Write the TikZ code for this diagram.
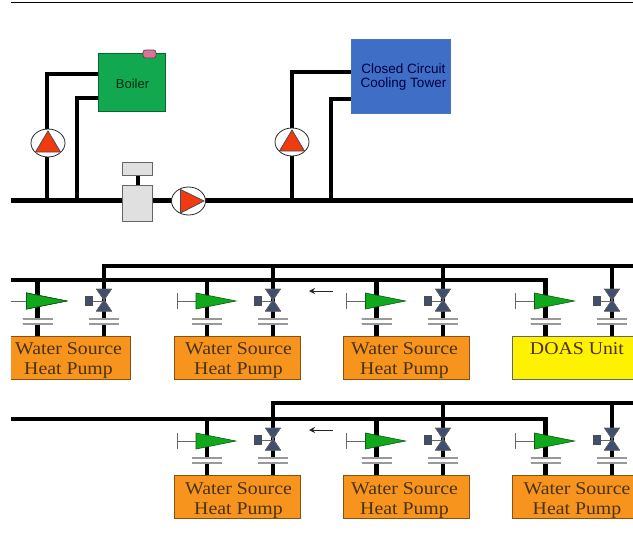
\documentclass[tikz,border=0pt]{standalone}
\usepackage{fontspec}
\setmainfont{Liberation Serif}
\newfontfamily\sansf{Liberation Sans}
\usetikzlibrary{shapes.geometric,arrows.meta}
\definecolor{pumpred}{HTML}{F23A10}
\definecolor{boilgreen}{HTML}{12A850}
\definecolor{towerblue}{HTML}{3F6EC6}
\definecolor{hporange}{HTML}{F7941E}
\definecolor{valveblue}{HTML}{414F6E}
\definecolor{valvegreen}{HTML}{12A81E}
\definecolor{boxtextc}{HTML}{4A3212}
\tikzset{
  x=1pt,y=-1pt,
  pipe/.style={line width=4.6pt,black,line cap=butt,line join=miter},
  pumpbody/.style={ellipse,draw=black!85,fill=white,line width=0.8pt,minimum width=34pt,minimum height=28pt,inner sep=0pt},
  pumptri/.style={fill=pumpred,draw=black!70,line width=0.8pt,line join=miter},
  hpbox/.style={draw=black!45!hporange,fill=hporange,line width=0.9pt,minimum width=126pt,minimum height=43pt,inner sep=0pt},
  boxtext/.style={font=\addfontfeature{FakeStretch=1.1}\fontsize{18pt}{19.5pt}\selectfont,text=boxtextc,align=center,inner sep=0pt},
  gray box/.style={draw=black!60,fill=black!12,line width=0.9pt,inner sep=0pt},
}
\newcommand{\greenvalve}[3]{%
  \ifnum#3=1 \draw[black!60,line width=0.9pt] (#1-30,#2-8) -- (#1-30,#2+8);
    \draw[black!60,line width=0.9pt] (#1-30,#2) -- (#1-11,#2);
  \else \draw[black!60,line width=0.9pt] (11,#2) -- (#1-11,#2); \fi
  \fill[valvegreen,draw=black!45!valvegreen,line width=0.6pt] (#1-11,#2-8) -- (#1+29,#2) -- (#1-11,#2+8) -- cycle;
}
\newcommand{\ballvalve}[2]{%
  \draw[black!60,line width=0.9pt] (#1-12,#2) -- (#1,#2);
  \fill[valveblue,draw=black!60,line width=0.5pt] (#1-7.5,#2-12) -- (#1+7.5,#2-12) -- (#1-7.5,#2+10) -- (#1+7.5,#2+10) -- cycle;
  \fill[valveblue,draw=black!70,line width=0.6pt] (#1-19,#2-4.5) rectangle (#1-11.5,#2+4.5);
}
\newcommand{\unionpair}[2]{%
  \fill[white] (#1-15,#2) rectangle (#1+15,#2+5);
  \draw[black!40,line width=1.4pt] (#1-15,#2) -- (#1+15,#2) (#1-15,#2+5) -- (#1+15,#2+5);
}
\begin{document}
\begin{tikzpicture}
\useasboundingbox (0,0) rectangle (633,547);
\fill[white] (0,0) rectangle (633,547);
\draw[black,line width=1.8pt] (11,2.5) -- (633,2.5);
% top plant
\node[draw=black!40!boilgreen,fill=boilgreen,line width=0.7pt,minimum width=67pt,minimum height=58pt,inner sep=0pt] (boiler) at (131.5,82) {};
\node[font=\sansf\fontsize{13pt}{14pt}\selectfont,text=black!75!boilgreen,inner sep=0pt] at (132.5,84) {Boiler};
\node[draw=black!70,fill=purple!55!white,rounded corners=2.5pt,line width=0.7pt,minimum width=13pt,minimum height=8pt,inner sep=0pt] (cap) at (149.5,54) {};
\node[draw=towerblue!80!gray,fill=towerblue,line width=0.7pt,minimum width=99pt,minimum height=74pt,inner sep=0pt] (tower) at (400.5,76) {};
\node[font=\sansf\fontsize{13.5pt}{14pt}\selectfont,text=blue!25!black,align=center,inner sep=0pt] at (403.5,77) {Closed Circuit\\Cooling Tower};
\coordinate (m0) at (11,200.5); \coordinate (m1) at (633,200.5);
\draw[pipe] (m0) -- (m1);
\draw[pipe] (47,200.5) -- (47,74) -- (98,74);
\draw[pipe] (77,200.5) -- (77,98) -- (98,98);
\draw[pipe] (292,200.5) -- (292,72) -- (351,72);
\draw[pipe] (331,200.5) -- (331,99) -- (351,99);
% pumps
\node[pumpbody] (p1) at (48,143) {};
\fill[pumptri] (48,131) -- (60.5,152) -- (35.5,152) -- cycle;
\node[pumpbody] (p2) at (292,142) {};
\fill[pumptri] (292,130) -- (304.5,151) -- (279.5,151) -- cycle;
\draw[pipe] (138,175) -- (138,186);
\node[gray box,minimum width=30pt,minimum height=13pt] (act) at (137.5,168.5) {};
\node[gray box,minimum width=30pt,minimum height=36pt] (body) at (137.5,203) {};
\node[pumpbody] (p3) at (188.5,201) {};
\fill[pumptri] (180.5,189.5) -- (204,201) -- (180.5,213) -- cycle;
% row 1
\draw[pipe] (104,280) -- (104,266) -- (633,266);
\draw[pipe] (11,280) -- (545.5,280) -- (545.5,336);
\foreach \x in {37.5,207,376.5} \draw[pipe] (\x,280) -- (\x,336);
\foreach \x in {104,273,443,612} \draw[pipe] (\x,266) -- (\x,336);
\foreach \x in {207,376.5,545.5} \greenvalve{\x}{301}{1}
\greenvalve{37.5}{301}{0}
\foreach \x in {104,273,443,612} \ballvalve{\x}{301}
\foreach \x in {37.5,104,207,273,376.5,443,545.5,612} \unionpair{\x}{319}
\node[hpbox] (a1) at (67.5,357.5) {};
\node[hpbox] (a2) at (237,357.5) {};
\node[hpbox] (a3) at (406.5,357.5) {};
\node[draw=black!60,fill=yellow,line width=0.9pt,minimum width=126pt,minimum height=43pt,inner sep=0pt] (a4) at (575,357.5) {};
\fill[white] (0,330) rectangle (11,385);
\node[boxtext] at (68.5,360.5) {Water Source\\Heat Pump};
\node[boxtext] at (238.5,360.5) {Water Source\\Heat Pump};
\node[boxtext] at (404.5,360.5) {Water Source\\Heat Pump};
\node[boxtext] at (577,349) {DOAS Unit};
\coordinate (r1a) at (333,291); \coordinate (r1b) at (309,291);
\draw[-{Stealth[length=6pt,width=6pt]},black!85,line width=0.9pt] (r1a) -- (r1b);
% row 2
\draw[pipe] (273,419) -- (273,403) -- (633,403);
\draw[pipe] (11,419) -- (545.5,419) -- (545.5,476);
\foreach \x in {207,376.5} \draw[pipe] (\x,419) -- (\x,476);
\draw[pipe] (273,419) -- (273,476);
\foreach \x in {443,612} \draw[pipe] (\x,403) -- (\x,476);
\foreach \x in {207,376.5,545.5} \greenvalve{\x}{441}{1}
\foreach \x in {273,443,612} \ballvalve{\x}{440}
\foreach \x in {207,273,376.5,443,545.5,612} \unionpair{\x}{458}
\node[hpbox] (b1) at (237,497) {};
\node[hpbox] (b2) at (406.5,497) {};
\node[hpbox] (b3) at (575,497) {};
\node[boxtext] at (238.5,500.5) {Water Source\\Heat Pump};
\node[boxtext] at (404.5,500.5) {Water Source\\Heat Pump};
\node[boxtext] at (577,500.5) {Water Source\\Heat Pump};
\coordinate (r2a) at (333,430); \coordinate (r2b) at (309,430);
\draw[-{Stealth[length=6pt,width=6pt]},black!85,line width=0.9pt] (r2a) -- (r2b);
\end{tikzpicture}
\end{document}
